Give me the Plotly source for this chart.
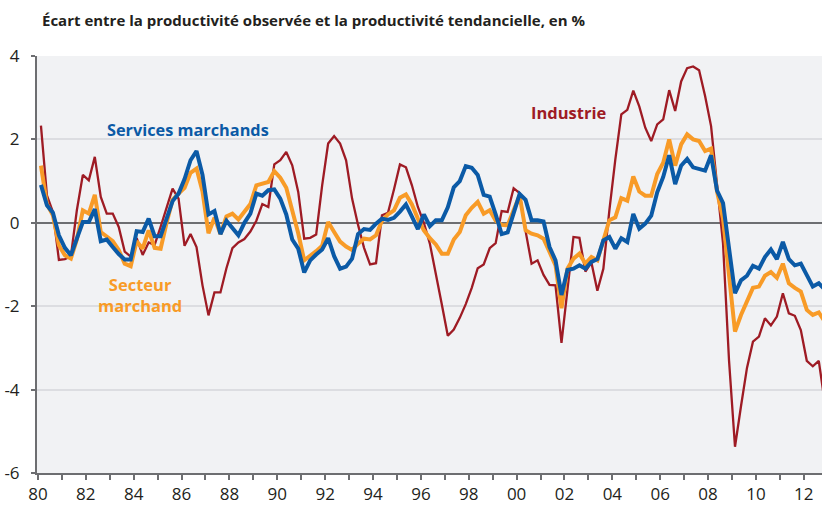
import plotly.graph_objects as go

# quarterly series, 1980Q1 .. 2012Q4 (ecart a la tendance, en %)
industrie = [
    2.33, 0.66, 0.26, -0.89, -0.87, -0.8, 0.3, 1.15, 1.02, 1.58,
    0.62, 0.22, 0.22, -0.1, -0.69, -0.81, -0.37, -0.77, -0.47, -0.53,
    -0.1, 0.34, 0.82, 0.58, -0.55, -0.27, -0.58, -1.5, -2.22, -1.67,
    -1.67, -1.09, -0.61, -0.47, -0.39, -0.21, 0.05, 0.45, 0.38, 1.4,
    1.5, 1.7, 1.38, 0.74, -0.38, -0.36, -0.28, 0.9, 1.9, 2.08,
    1.9, 1.5, 0.58, -0.05, -0.6, -1.0, -0.97, 0.18, 0.24, 0.8,
    1.4, 1.33, 0.9, 0.38, 0.0, -0.5, -1.2, -1.96, -2.71, -2.56,
    -2.28, -1.95, -1.56, -1.09, -1.0, -0.61, -0.49, 0.28, 0.26, 0.83,
    0.71, -0.2, -0.98, -0.9, -1.25, -1.49, -1.5, -2.88, -1.6, -0.34,
    -0.36, -1.17, -0.95, -1.63, -1.1, 0.3, 1.52, 2.6, 2.71, 3.17,
    2.79, 2.28, 1.96, 2.36, 2.48, 3.18, 2.68, 3.39, 3.71, 3.75,
    3.66, 3.04, 2.32, 0.9, -0.5, -3.3, -5.37, -4.4, -3.48, -2.85,
    -2.73, -2.29, -2.46, -2.25, -1.69, -2.17, -2.23, -2.57, -3.31, -3.44,
    -3.31, -4.3,
]

services = [
    0.91, 0.42, 0.24, -0.3, -0.6, -0.78, -0.38, 0.02, 0.02, 0.33,
    -0.44, -0.4, -0.58, -0.75, -0.88, -0.88, -0.2, -0.22, 0.1, -0.32,
    -0.32, 0.1, 0.52, 0.7, 1.05, 1.5, 1.72, 1.15, 0.2, 0.28,
    -0.27, 0.05, -0.12, -0.3, 0.0, 0.22, 0.7, 0.65, 0.78, 0.8,
    0.58, 0.2, -0.4, -0.62, -1.19, -0.9, -0.76, -0.64, -0.37, -0.8,
    -1.1, -1.05, -0.86, -0.27, -0.15, -0.17, -0.02, 0.1, 0.07, 0.12,
    0.27, 0.44, 0.15, -0.15, 0.2, -0.08, 0.06, 0.06, 0.37, 0.85,
    1.0, 1.36, 1.32, 1.15, 0.67, 0.63, 0.2, -0.27, -0.23, 0.25,
    0.69, 0.55, 0.06, 0.06, 0.03, -0.58, -0.9, -1.73, -1.13, -1.1,
    -1.02, -1.1, -0.94, -0.87, -0.42, -0.34, -0.62, -0.37, -0.46, 0.21,
    -0.14, -0.02, 0.17, 0.73, 1.1, 1.62, 0.93, 1.37, 1.53, 1.33,
    1.3, 1.25, 1.62, 0.77, 0.47, -0.55, -1.69, -1.38, -1.27, -1.03,
    -1.1, -0.82, -0.64, -0.87, -0.46, -0.87, -1.02, -0.98, -1.27, -1.53,
    -1.45, -1.6,
]

secteur = [
    1.37, 0.45, 0.18, -0.54, -0.78, -0.86, -0.4, 0.3, 0.22, 0.67,
    -0.22, -0.32, -0.44, -0.65, -0.98, -1.04, -0.44, -0.62, -0.18, -0.6,
    -0.62, 0.0, 0.55, 0.7, 0.84, 1.2, 1.3, 0.75, -0.25, 0.12,
    -0.27, 0.15, 0.22, 0.08, 0.25, 0.45, 0.9, 0.95, 0.98, 1.24,
    1.08, 0.84, 0.3, -0.25, -0.9, -0.8, -0.68, -0.55, 0.02, -0.22,
    -0.45, -0.57, -0.65, -0.5, -0.38, -0.4, -0.3, 0.05, 0.2, 0.3,
    0.6, 0.68, 0.44, 0.1, -0.18, -0.37, -0.52, -0.74, -0.74, -0.4,
    -0.22, 0.18, 0.36, 0.5, 0.22, 0.3, 0.05, -0.05, -0.06, 0.3,
    0.65, -0.18, -0.26, -0.3, -0.38, -0.7, -1.02, -2.05, -1.1, -0.86,
    -0.74, -0.98, -0.82, -0.9, -0.38, 0.06, 0.13, 0.59, 0.53, 1.11,
    0.75, 0.65, 0.65, 1.17, 1.44, 2.0, 1.37, 1.88, 2.12, 2.0,
    1.96, 1.72, 1.78, 0.75, 0.1, -1.3, -2.61, -2.21, -1.89, -1.56,
    -1.53, -1.27, -1.18, -1.32, -0.98, -1.45, -1.56, -1.65, -2.09, -2.21,
    -2.15, -2.37,
]

annees = list(range(1980, 2013))
etiquettes = [str(a)[2:] if a % 2 == 0 else '' for a in annees]
y_ticks = [-6, -4, -2, 0, 2, 4]
y_labels = ['-6', '-4', '-2', '0', '2', '4']

# mid-quarter positions
trimestres = [1980 + (i + 0.5) / 4 for i in range(len(industrie))]

ROUGE = '#9e1b24'
BLEU = '#0b5aa6'
ORANGE = '#f89b27'
TEXTE = '#231f20'
AXE = '#6d6e71'
FONT = 'Open Sans'

fig = go.Figure()
fig.add_trace(go.Scatter(x=trimestres, y=industrie, mode='lines', name='Industrie',
                         line=dict(color=ROUGE, width=2.3)))
fig.add_trace(go.Scatter(x=trimestres, y=secteur, mode='lines', name='Secteur marchand',
                         line=dict(color=ORANGE, width=4)))
fig.add_trace(go.Scatter(x=trimestres, y=services, mode='lines', name='Services marchands',
                         line=dict(color=BLEU, width=4)))

fig.update_layout(
    width=822, height=505,
    margin=dict(l=37, r=0, t=56, b=30),
    paper_bgcolor='white',
    plot_bgcolor='#f1f2f4',
    showlegend=False,
    font=dict(family=FONT, color=TEXTE),
)
fig.update_xaxes(
    range=[1979.96, 2012.76],
    tickvals=annees, ticktext=etiquettes,
    ticks='outside', ticklen=5, tickwidth=1.5, tickcolor=AXE,
    tickfont=dict(family=FONT, size=17, color=TEXTE),
    showgrid=False, zeroline=False,
    showline=True, linecolor=AXE, linewidth=2,
)
fig.update_yaxes(
    range=[-6, 4],
    tickvals=y_ticks, ticktext=y_labels,
    ticks='outside', ticklen=4, tickwidth=1.5, tickcolor=AXE,
    tickfont=dict(family=FONT, size=17, color=TEXTE),
    ticklabelstandoff=8,
    showgrid=True, gridcolor='#dcdde1', gridwidth=1.5,
    zeroline=True, zerolinecolor=AXE, zerolinewidth=2,
    showline=True, linecolor=AXE, linewidth=2,
)

fig.add_annotation(
    text='<b>Écart entre la productivité observée et la productivité tendancielle, en %</b>',
    xref='paper', yref='paper', x=0, y=1, xshift=3, yshift=36,
    xanchor='left', yanchor='middle', showarrow=False,
    font=dict(family=FONT, size=15, color=TEXTE),
)
fig.add_annotation(text='<b>Services marchands</b>', x=1986.27, y=2.22,
                   showarrow=False, font=dict(family=FONT, size=16.3, color=BLEU))
fig.add_annotation(text='<b>Industrie</b>', x=2002.15, y=2.65,
                   showarrow=False, font=dict(family=FONT, size=16.5, color=ROUGE))
fig.add_annotation(text='<b>Secteur<br>marchand</b>', x=1984.26, y=-1.73,
                   showarrow=False, font=dict(family=FONT, size=16.5, color=ORANGE))

fig.write_html("out.html", config={'displayModeBar': False},
               post_script="document.body.style.margin='0';")
